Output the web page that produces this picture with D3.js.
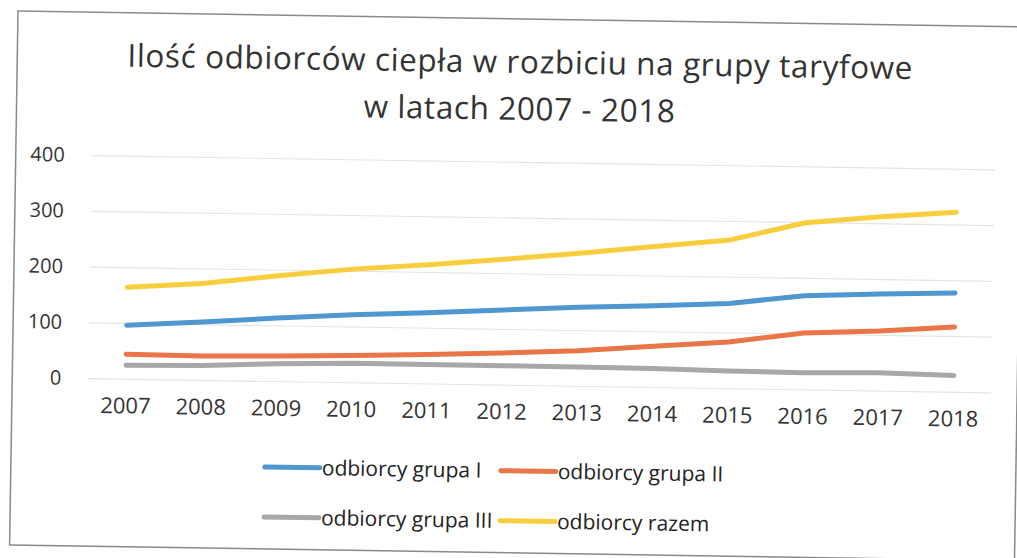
<!DOCTYPE html>
<html>
<head>
<meta charset="utf-8">
<script src="https://cdn.jsdelivr.net/npm/d3@7/dist/d3.min.js"></script>
<style>
	html, body { margin: 0; padding: 0; background: #fff; }
	svg { display: block; }
	text { font-family: 'Open Sans', Lato, sans-serif; }
</style>
</head>
<body>
<svg></svg>
<script>
'use strict';

const years = ['2007', '2008', '2009', '2010', '2011', '2012', '2013', '2014', '2015', '2016', '2017', '2018'];

const grupa1 = [96, 104, 113, 121, 127, 134, 141, 146, 152, 168, 173, 177];
const grupa2 = [44, 43, 45, 48, 52, 57, 63, 73, 83, 101, 107, 116];
const grupa3 = [24, 26, 31, 34, 34, 34, 34, 33, 31, 30, 32, 29];
const razem = [164, 173, 189, 203, 213, 225, 238, 252, 266, 299, 312, 322];

const yTicks = [0, 100, 200, 300, 400];

const seriesNames = ['odbiorcy grupa I', 'odbiorcy grupa II', 'odbiorcy grupa III', 'odbiorcy razem'];
const seriesColors = ['#4f97d0', '#ea7548', '#a8a8a8', '#f8cd3e'];

const titleLines = ['Ilość odbiorców ciepła w rozbiciu na grupy taryfowe', 'w latach 2007 - 2018'];

const opts = {
	width: 1017,
	height: 558,
	tilt: 0.9, // the scanned sheet is slightly rotated
	plotLeft: 94,
	plotRight: 997,
	plotTop: 154,
	plotBottom: 377,
	textColor: '#333'
};

const series = [grupa1, grupa2, grupa3, razem].map((values, i) => {
	return { name: seriesNames[i], color: seriesColors[i], values: values };
});

const svg = d3.select('svg')
	.attr('width', opts.width)
	.attr('height', opts.height);

const page = svg.append('g')
	.attr('transform', `rotate(${opts.tilt}, 18, 11)`);

// chart frame
page.append('rect')
	.attr('x', 18)
	.attr('y', 11)
	.attr('width', 1005)
	.attr('height', 534)
	.attr('fill', 'none')
	.attr('stroke', '#8a8a8a')
	.attr('stroke-width', 1.5);

// title
page.append('g').selectAll('text')
	.data(titleLines)
	.join('text')
	.attr('x', 521)
	.attr('y', (d, i) => 65 + i * 47)
	.attr('text-anchor', 'middle')
	.attr('font-size', 31.5)
	.attr('letter-spacing', 0.6)
	.attr('fill', opts.textColor)
	.text((d) => d);

const x = d3.scaleBand()
	.domain(years)
	.range([opts.plotLeft, opts.plotRight]);

const y = d3.scaleLinear()
	.domain([0, 400])
	.range([opts.plotBottom, opts.plotTop]);

// gridlines + y labels
const yAxis = page.append('g')
	.attr('transform', `translate(${opts.plotLeft}, 0)`)
	.call(d3.axisLeft(y).tickValues(yTicks).tickSize(-(opts.plotRight - opts.plotLeft)).tickPadding(27));

yAxis.select('.domain').remove();
yAxis.selectAll('.tick line')
	.attr('stroke', '#e4e4e4')
	.attr('stroke-width', 1.2);
yAxis.selectAll('.tick text')
	.attr('font-size', 20)
	.attr('font-family', "'Open Sans', sans-serif")
	.attr('fill', opts.textColor);

// x labels
const xAxis = page.append('g')
	.attr('transform', `translate(0, ${opts.plotBottom})`)
	.call(d3.axisBottom(x).tickSize(0).tickPadding(19));

xAxis.select('.domain').remove();
xAxis.selectAll('.tick text')
	.attr('font-size', 22)
	.attr('font-family', "'Open Sans', sans-serif")
	.attr('fill', opts.textColor);

// series lines
const line = d3.line()
	.x((d, i) => x(years[i]) + x.bandwidth() / 2)
	.y((d) => y(d));

page.append('g').selectAll('path')
	.data(series)
	.join('path')
	.attr('d', (d) => line(d.values))
	.attr('fill', 'none')
	.attr('stroke', (d) => d.color)
	.attr('stroke-width', 5)
	.attr('stroke-linecap', 'round')
	.attr('stroke-linejoin', 'round');

// legend, two columns by two rows
const legend = page.append('g').selectAll('g')
	.data(series)
	.join('g')
	.attr('transform', (d, i) => {
		let lx = i % 2 === 0 ? 272 : 508;
		let ly = i < 2 ? 463 : 513;
		return `translate(${lx}, ${ly})`;
	});

legend.append('line')
	.attr('x1', 0)
	.attr('x2', 55)
	.attr('stroke', (d) => d.color)
	.attr('stroke-width', 5)
	.attr('stroke-linecap', 'round');

legend.append('text')
	.attr('x', 57)
	.attr('dy', '0.35em')
	.attr('font-size', 21)
	.attr('fill', '#222')
	.text((d) => d.name);
</script>
</body>
</html>
